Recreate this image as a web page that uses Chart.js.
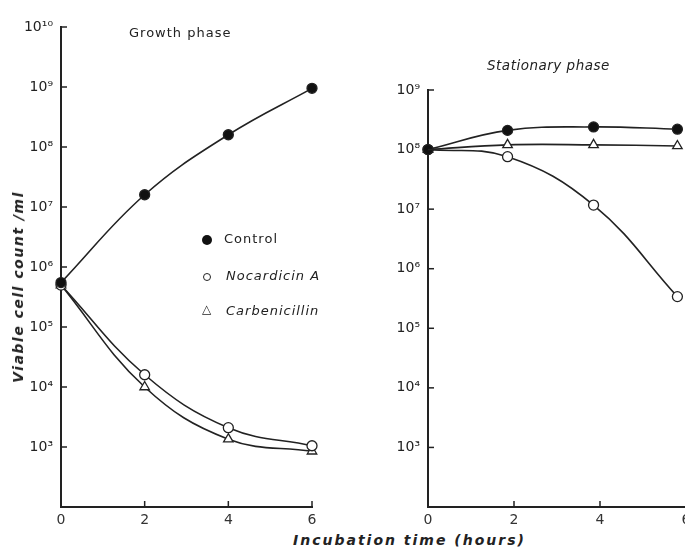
<!DOCTYPE html>
<html>
<head>
<meta charset="utf-8">
<script src="https://cdn.jsdelivr.net/npm/chart.js@4.4.0/dist/chart.umd.min.js"></script>
<style>
  html, body { margin: 0; padding: 0; background: #fff; overflow: hidden; }
  #wrap { position: relative; width: 685px; height: 552px; overflow: hidden; font-family: "DejaVu Sans", sans-serif; color: #222; }
  .panel { position: absolute; top: 0; height: 530px; }
  .txt { position: absolute; white-space: nowrap; }
  .leg { position: absolute; font-size: 13px; letter-spacing: 1px; white-space: nowrap; }
  .mk { position: absolute; box-sizing: border-box; }
</style>
</head>
<body>
<div id="wrap">
  <div class="panel" style="left:0;width:330px"><canvas id="growth"></canvas></div>
  <div class="panel" style="left:370px;width:330px"><canvas id="stationary"></canvas></div>

  <div class="txt" style="left:129px;top:25px;font-size:13px;letter-spacing:1px">Growth phase</div>
  <div class="txt" style="left:487px;top:57px;font-size:13.5px;letter-spacing:0.5px;font-style:italic">Stationary phase</div>

  <div class="mk" style="left:202px;top:235px;width:10px;height:10px;border-radius:50%;background:#111"></div>
  <div class="leg" style="left:224px;top:231px">Control</div>
  <div class="mk" style="left:203px;top:273px;width:8px;height:8px;border-radius:50%;border:1.3px solid #222"></div>
  <div class="leg" style="left:226px;top:268px;font-style:italic">Nocardicin A</div>
  <div class="leg" style="left:202px;top:302px;font-size:12px">&#9651;</div>
  <div class="leg" style="left:226px;top:303px;font-style:italic">Carbenicillin</div>

  <div class="txt" style="left:18px;top:287px;font-size:14px;font-weight:bold;font-style:italic;letter-spacing:1.5px;transform:translate(-50%,-50%) rotate(-90deg)">Viable cell count /ml</div>
  <div class="txt" style="left:293px;top:532px;font-size:14px;font-weight:bold;font-style:italic;letter-spacing:2px">Incubation time (hours)</div>
</div>

<script>
// sampling times (hours)
const growthHours = [0, 2, 4, 6];
const statHours = [0, 1.85, 3.85, 5.8];
const xTicks = [0, 2, 4, 6];

// growth phase, viable cells / ml
const growthControl = [5.5e5, 1.6e7, 1.6e8, 9.5e8];
const growthNocardicin = [5.0e5, 1.6e4, 2.1e3, 1.05e3];
const growthCarbenicillin = [5.0e5, 1.0e4, 1.35e3, 850];

// stationary phase, viable cells / ml
const statControl = [1e8, 2.1e8, 2.4e8, 2.2e8];
const statNocardicin = [1e8, 7.6e7, 1.17e7, 3.4e5];
const statCarbenicillin = [1e8, 1.2e8, 1.2e8, 1.15e8];

const growthYTicks = [1e3, 1e4, 1e5, 1e6, 1e7, 1e8, 1e9, 1e10];
const statYTicks = [1e3, 1e4, 1e5, 1e6, 1e7, 1e8, 1e9];

const INK = "#222";
const sup = { "0": "\u2070", "1": "\u00b9", "2": "\u00b2", "3": "\u00b3", "4": "\u2074",
  "5": "\u2075", "6": "\u2076", "7": "\u2077", "8": "\u2078", "9": "\u2079" };
const powLabel = v => "10" + String(Math.round(Math.log10(v))).split("").map(d => sup[d]).join("");

const pts = (xs, ys) => xs.map((x, i) => ({ x: x, y: ys[i] }));

// small tick marks drawn inside the axes, like the original figure
const innerTicks = {
  id: "innerTicks",
  afterDatasetsDraw(chart) {
    const { ctx, chartArea, scales } = chart;
    ctx.save();
    ctx.strokeStyle = INK;
    ctx.lineWidth = 1.5;
    scales.y.ticks.forEach(t => {
      const y = scales.y.getPixelForValue(t.value);
      ctx.beginPath(); ctx.moveTo(chartArea.left, y); ctx.lineTo(chartArea.left + 6, y); ctx.stroke();
    });
    scales.x.ticks.forEach(t => {
      if (t.value === 0) return;
      const x = scales.x.getPixelForValue(t.value);
      ctx.beginPath(); ctx.moveTo(x, chartArea.bottom); ctx.lineTo(x, chartArea.bottom - 6); ctx.stroke();
    });
    ctx.restore();
  }
};

function series(data, style) {
  const base = {
    data: data,
    borderColor: INK,
    borderWidth: 1.6,
    tension: 0.4,
    pointBorderColor: INK,
    pointBorderWidth: 1.3,
    pointRadius: 5,
    clip: false
  };
  if (style === "filled") return Object.assign(base, { pointStyle: "circle", pointBackgroundColor: "#111" });
  if (style === "open") return Object.assign(base, { pointStyle: "circle", pointBackgroundColor: "#fff" });
  return Object.assign(base, { pointStyle: "triangle", pointRadius: 5.5, pointBackgroundColor: "#fff" });
}

function makePanel(id, datasets, yMax, yTicks, padRight, padTop) {
  return new Chart(document.getElementById(id), {
    type: "line",
    data: { datasets: datasets },
    options: {
      responsive: true,
      maintainAspectRatio: false,
      animation: false,
      layout: { padding: { left: 0, right: padRight, top: padTop, bottom: 0 } },
      plugins: { legend: { display: false }, tooltip: { enabled: false } },
      scales: {
        x: {
          type: "linear",
          min: 0,
          max: 6,
          afterBuildTicks: s => { s.ticks = xTicks.map(v => ({ value: v })); },
          afterFit: s => { s.height = 23; },
          grid: { display: true, drawOnChartArea: false, drawTicks: false },
          border: { display: true, color: INK, width: 2 },
          ticks: { color: "#333", padding: 5, font: { family: "DejaVu Sans", size: 14 } }
        },
        y: {
          type: "logarithmic",
          min: 100,
          max: yMax,
          afterBuildTicks: s => { s.ticks = yTicks.map(v => ({ value: v })); },
          afterFit: s => { s.width = id === "growth" ? 61 : 58; },
          grid: { display: true, drawOnChartArea: false, drawTicks: false },
          border: { display: true, color: INK, width: 2 },
          ticks: {
            color: "#222",
            padding: 8,
            font: { family: "DejaVu Sans", size: 14 },
            callback: v => powLabel(v)
          }
        }
      }
    },
    plugins: [innerTicks]
  });
}

makePanel("growth", [
  series(pts(growthHours, growthControl), "filled"),
  series(pts(growthHours, growthNocardicin), "open"),
  series(pts(growthHours, growthCarbenicillin), "triangle")
], 1e10, growthYTicks, 18, 27);

makePanel("stationary", [
  series(pts(statHours, statControl), "filled"),
  series(pts(statHours, statCarbenicillin), "triangle"),
  series(pts(statHours, statNocardicin), "open")
], 1e9, statYTicks, 14, 90);
</script>
</body>
</html>
